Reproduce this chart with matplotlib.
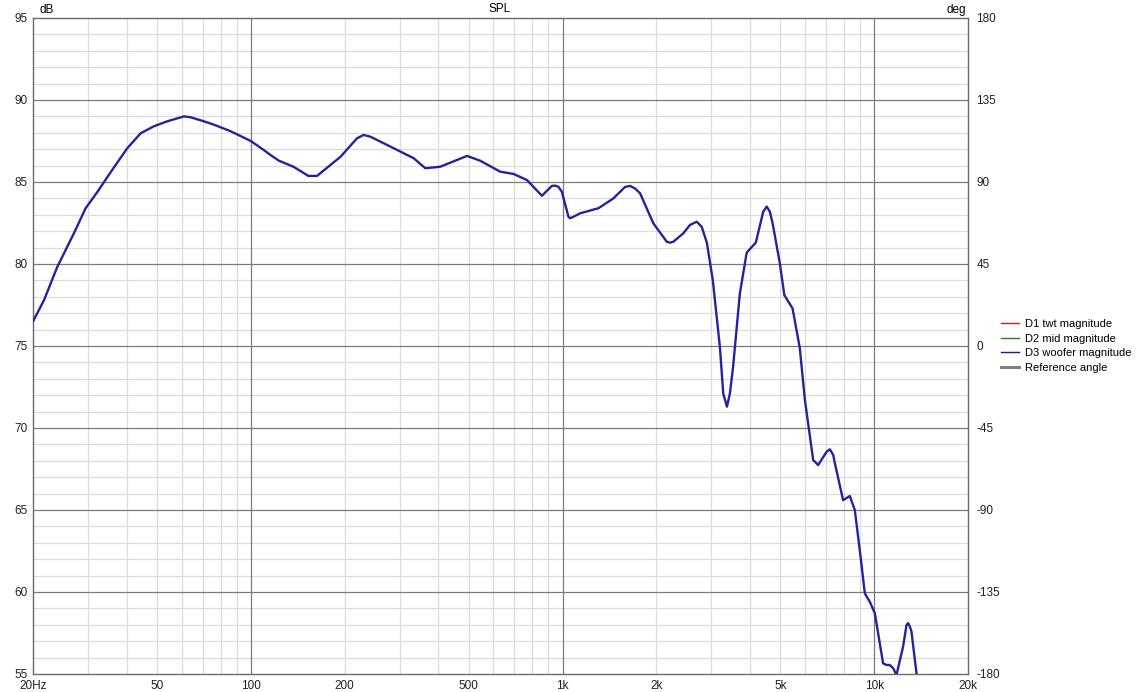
import matplotlib.pyplot as plt
from matplotlib.ticker import NullFormatter

# D3 woofer magnitude
freq_hz = [20, 21.7, 23.9, 27.1, 29.5, 32.2, 35.5, 40.1, 44.3, 48.9, 53.9, 61, 64, 70.7,
           76, 86, 100, 110, 115.6, 123, 137, 153, 163, 194, 219, 230, 242, 267, 333, 363, 405,
           494, 544, 631, 697, 769, 859, 924, 947, 970, 995, 1045, 1058, 1084, 1138, 1304, 1456,
           1588, 1648, 1710, 1774, 1956, 2160, 2213, 2268, 2441, 2564, 2696, 2796, 2905, 3036,
           3200, 3279, 3370, 3444, 3525, 3707, 3900, 4170, 4406, 4520, 4626,
           4720, 4975, 5150, 5470, 5770, 5995, 6372, 6610, 7034, 7208, 7390, 7480, 7948, 8354, 8666,
           8990, 9333, 9684, 10050, 10680, 10950, 11220, 11510, 11790, 12380, 12700, 12850, 13010,
           13170, 13670, 13900]
spl_db = [76.5, 77.8, 79.8, 81.9, 83.4, 84.4, 85.6, 87.05, 87.97, 88.4, 88.7, 89.0, 88.95, 88.7,
          88.5, 88.1, 87.5, 86.95, 86.65, 86.3, 85.93, 85.37, 85.37, 86.54, 87.66, 87.87, 87.76, 87.36,
          86.45, 85.84, 85.93,
          86.59, 86.3, 85.63, 85.49, 85.12, 84.16, 84.76, 84.78, 84.71, 84.41, 82.88, 82.79, 82.88,
          83.09, 83.4, 84.0,
          84.7, 84.76, 84.6, 84.31, 82.48, 81.36, 81.3, 81.36, 81.87, 82.38, 82.58, 82.27, 81.3, 79.0,
          74.9, 72.1, 71.3, 72.1, 73.7, 78.2, 80.7, 81.3, 83.19, 83.5, 83.19,
          82.5, 80.1, 78.1, 77.3, 74.9, 71.7, 68.05, 67.74, 68.55, 68.7, 68.35, 67.85, 65.6, 65.85, 65.0,
          62.56, 59.92, 59.4, 58.7, 55.65, 55.55, 55.55, 55.35, 54.94, 56.67, 57.99, 58.1, 57.9,
          57.6, 55.04, 53.5]

legend_names = ["D1 twt magnitude", "D2 mid magnitude", "D3 woofer magnitude", "Reference angle"]
legend_colors = ["#d02020", "#208020", "#1c1c8c", "#808080"]

x_major = [100, 1000, 10000]
x_ticks = [20, 50, 100, 200, 500, 1000, 2000, 5000, 10000, 20000]
x_labels = ["20Hz", "50", "100", "200", "500", "1k", "2k", "5k", "10k", "20k"]
deg_ticks = [180, 135, 90, 45, 0, -45, -90, -135, -180]

plt.rcParams['font.family'] = ['Liberation Sans', 'DejaVu Sans']
plt.rcParams['font.size'] = 8.5
plt.rcParams['axes.unicode_minus'] = False

fig = plt.figure(figsize=(11.39, 6.92), dpi=100)
ax = fig.add_axes([33 / 1139, 1 - 674 / 692, 935 / 1139, 656 / 692])

ax.set_xscale('log')
ax.set_xlim(20, 20000)
ax.set_ylim(55, 95)

# grid: minor light, major darker
minor_x = [m * d for d in (10, 100, 1000) for m in range(2, 10)]
minor_x = [v for v in minor_x if 20 < v < 20000 and v not in x_major]
for v in minor_x:
    ax.axvline(v, color="#dcdcdc", lw=0.9, zorder=0)
for v in x_major:
    ax.axvline(v, color="#7a7a7a", lw=0.9, zorder=1)
for v in range(56, 95):
    if v % 5:
        ax.axhline(v, color="#dcdcdc", lw=0.9, zorder=0)
for v in range(60, 95, 5):
    ax.axhline(v, color="#7a7a7a", lw=0.9, zorder=1)

for s in ax.spines.values():
    s.set_color("#6a6a6a")
    s.set_linewidth(1.0)

ax.plot(freq_hz, spl_db, color="#24249a", lw=1.7, zorder=3,
        solid_joinstyle="round", solid_capstyle="round")

handles = []
for name, col in zip(legend_names, legend_colors):
    h, = ax.plot([], [], color=col, lw=2.2 if name.startswith("Ref") else 1.0)
    handles.append(h)
fig.legend(handles, legend_names, loc="center left", bbox_to_anchor=(1001 / 1139, 1 - 346 / 692),
           frameon=False, fontsize=8, handlelength=1.6, handletextpad=0.6, labelspacing=0.42,
           borderaxespad=0, borderpad=0)

ax.set_xticks(x_ticks)
ax.set_xticklabels(x_labels)
ax.xaxis.set_minor_formatter(NullFormatter())
ax.set_yticks(range(55, 96, 5))
ax.tick_params(which="both", length=0, labelsize=8.5, colors="#202020")
ax.tick_params(axis="x", pad=4)
ax.tick_params(axis="y", pad=4)

ax2 = ax.twinx()
ax2.set_ylim(-180, 180)
ax2.set_yticks(deg_ticks)
ax2.tick_params(length=0, pad=6, labelsize=8.5, colors="#202020")
for s in ax2.spines.values():
    s.set_visible(False)

fig.text(40 / 1139, 1 - 10 / 692, "dB", fontsize=8.5, ha="left", va="center")
fig.text(966 / 1139, 1 - 10 / 692, "deg", fontsize=8.5, ha="right", va="center")
fig.text(500 / 1139, 1 - 9 / 692, "SPL", fontsize=8.5, ha="center", va="center")

fig.savefig("out.png", dpi=100, facecolor="white")
